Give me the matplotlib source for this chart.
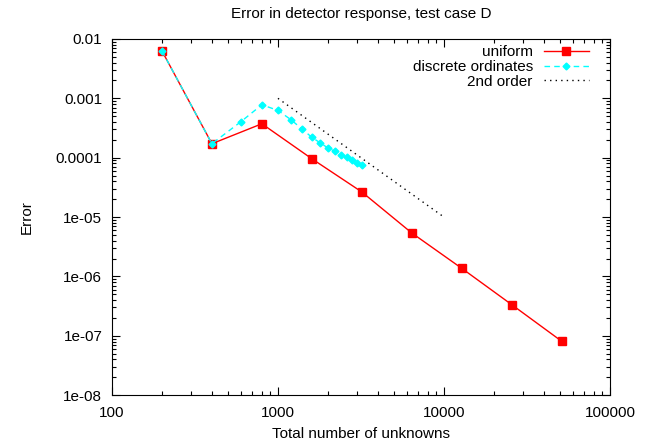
import matplotlib
matplotlib.use('Agg')
import matplotlib.pyplot as plt
from matplotlib import rcParams
import matplotlib.ticker as ticker

rcParams.update({'font.family': 'Liberation Sans', 'font.size': 11})

# uniform refinement
uniform_n = [200, 400, 800, 1600, 3200, 6400, 12800, 25600, 51200]
uniform_err = [6.3e-3, 1.72e-4, 3.73e-4, 9.6e-5, 2.65e-5, 5.4e-6, 1.37e-6, 3.35e-7, 8.1e-8]

# discrete ordinates refinement
do_n = [200, 400, 600, 800, 1000, 1200, 1400, 1600, 1800, 2000,
        2200, 2400, 2600, 2800, 3000, 3200]
do_err = [6.3e-3, 1.72e-4, 4.07e-4, 7.8e-4, 6.26e-4, 4.35e-4, 3.02e-4, 2.21e-4,
          1.77e-4, 1.46e-4, 1.28e-4, 1.12e-4, 1.01e-4, 9.1e-5, 8.2e-5, 7.4e-5]

# reference slope
ref_n = [1000, 10000]
ref_err = [1e-3, 1e-5]

xticks = [100, 1000, 10000, 100000]
xtick_labels = ['100', '1000', '10000', '100000']
yticks = [1e-8, 1e-7, 1e-6, 1e-5, 1e-4, 1e-3, 1e-2]
ytick_labels = ['1e-08', '1e-07', '1e-06', '1e-05', '0.0001', '0.001', '0.01']


def plot():
    fig = plt.figure(figsize=(6.53, 4.43), dpi=100)
    ax = fig.add_axes([0.1715, 0.108, 0.7625, 0.804])

    ax.plot(uniform_n, uniform_err, color='#ff0000', lw=1.0, marker='s',
            markersize=5.5, label='uniform')
    ax.plot(do_n, do_err, color='#00ffff', lw=1.0, ls=(0, (4, 3)), marker='D',
            markersize=3.5, label='discrete ordinates')
    ax.plot(ref_n, ref_err, color='black', lw=1.0, ls=(0, (1, 3)), label='2nd order')

    ax.set_xscale('log')
    ax.set_yscale('log')
    ax.set_xlim(100, 100000)
    ax.set_ylim(1e-8, 1e-2)
    ax.set_xticks(xticks, xtick_labels)
    ax.set_yticks(yticks, ytick_labels)
    ax.xaxis.set_minor_locator(ticker.LogLocator(base=10, subs=range(2, 10)))
    ax.yaxis.set_minor_locator(ticker.LogLocator(base=10, subs=range(2, 10)))
    ax.xaxis.set_minor_formatter(ticker.NullFormatter())
    ax.yaxis.set_minor_formatter(ticker.NullFormatter())
    ax.tick_params(which='both', direction='in', top=True, right=True, width=0.8)
    ax.tick_params(which='major', length=6)
    ax.tick_params(which='minor', length=3)
    ax.tick_params(axis='x', which='major', pad=8)
    ax.tick_params(axis='y', which='major', pad=7)
    for s in ax.spines.values():
        s.set_linewidth(0.8)

    ax.set_title('Error in detector response, test case D', fontsize=11, pad=15)
    ax.set_xlabel('Total number of unknowns', labelpad=5)
    ax.set_ylabel('Error', labelpad=16)

    ax.legend(loc='upper right', frameon=False, markerfirst=False,
              handlelength=3.0, handletextpad=0.7, labelspacing=0.05,
              borderaxespad=0.0, bbox_to_anchor=(0.971, 1.0))

    fig.savefig('out.png', dpi=100)


if __name__ == '__main__':
    plot()
